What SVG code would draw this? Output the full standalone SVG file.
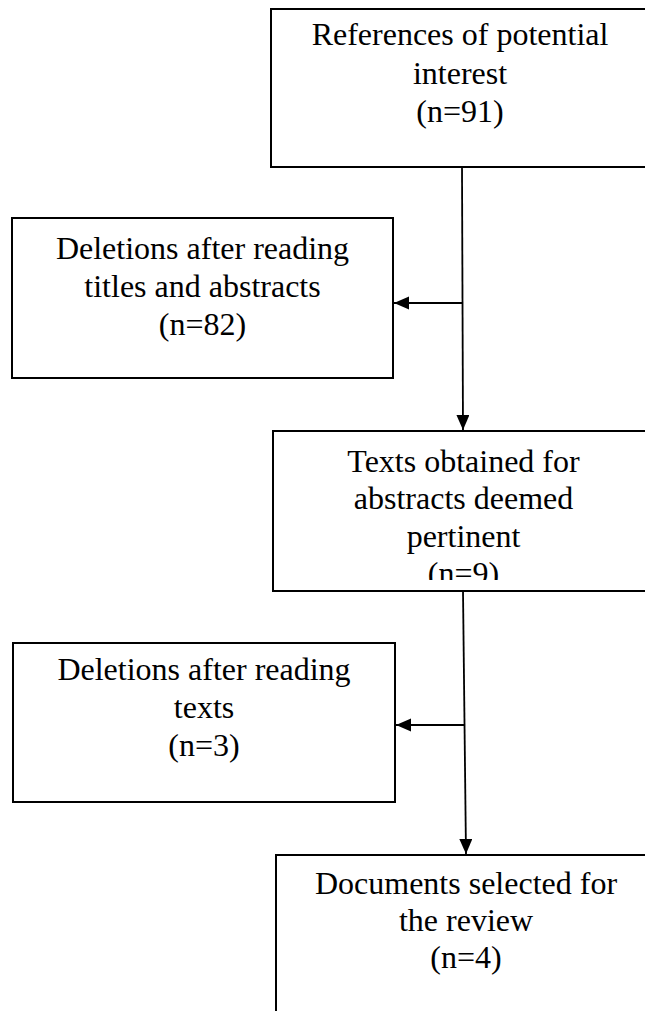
<svg xmlns="http://www.w3.org/2000/svg" width="645" height="1011" viewBox="0 0 645 1011">
<style>
.box{fill:#fff;stroke:#000;stroke-width:2}
.lbl{font-family:"Liberation Serif","Times New Roman",serif;font-size:32px;fill:#000;text-anchor:middle}
.edge{stroke:#000;stroke-width:1.8;fill:none}
</style>
<defs>
<marker id="arr" markerUnits="userSpaceOnUse" markerWidth="16" markerHeight="14" refX="15" refY="6.5" orient="auto">
<path d="M0,0 L15,6.5 L0,13 Z" fill="#000"/>
</marker>
<clipPath id="clip3"><rect x="272" y="431" width="380" height="149"/></clipPath>
</defs>
<rect width="645" height="1011" fill="#fff"/>
<g id="n1">
<rect class="box" x="271" y="9" width="380" height="158"/>
<text class="lbl" x="460" y="45">References of potential</text>
<text class="lbl" x="460" y="83.5">interest</text>
<text class="lbl" x="460" y="122">(n=91)</text>
</g>
<g id="n2">
<rect class="box" x="12" y="218" width="381" height="160"/>
<text class="lbl" x="202.5" y="258.5">Deletions after reading</text>
<text class="lbl" x="202.5" y="296.5">titles and abstracts</text>
<text class="lbl" x="202.5" y="334.5">(n=82)</text>
</g>
<g id="n3">
<rect class="box" x="273" y="431" width="380" height="160"/>
<g clip-path="url(#clip3)">
<text class="lbl" x="463.5" y="471.5">Texts obtained for</text>
<text class="lbl" x="463.5" y="509">abstracts deemed</text>
<text class="lbl" x="463.5" y="546.5">pertinent</text>
<text class="lbl" x="463.5" y="584">(n=9)</text>
</g>
</g>
<g id="n4">
<rect class="box" x="13" y="643" width="382" height="159"/>
<text class="lbl" x="204" y="680">Deletions after reading</text>
<text class="lbl" x="204" y="718">texts</text>
<text class="lbl" x="204" y="756">(n=3)</text>
</g>
<g id="n5">
<rect class="box" x="276" y="855" width="380" height="170"/>
<text class="lbl" x="466" y="894">Documents selected for</text>
<text class="lbl" x="466" y="931">the review</text>
<text class="lbl" x="466" y="968">(n=4)</text>
</g>
<g id="connectors">
<line class="edge" x1="462" y1="167" x2="463" y2="430" marker-end="url(#arr)"/>
<line class="edge" x1="462.6" y1="303" x2="394" y2="303" marker-end="url(#arr)"/>
<line class="edge" x1="463" y1="591" x2="466" y2="854" marker-end="url(#arr)"/>
<line class="edge" x1="464" y1="725" x2="396" y2="725" marker-end="url(#arr)"/>
</g>
</svg>
